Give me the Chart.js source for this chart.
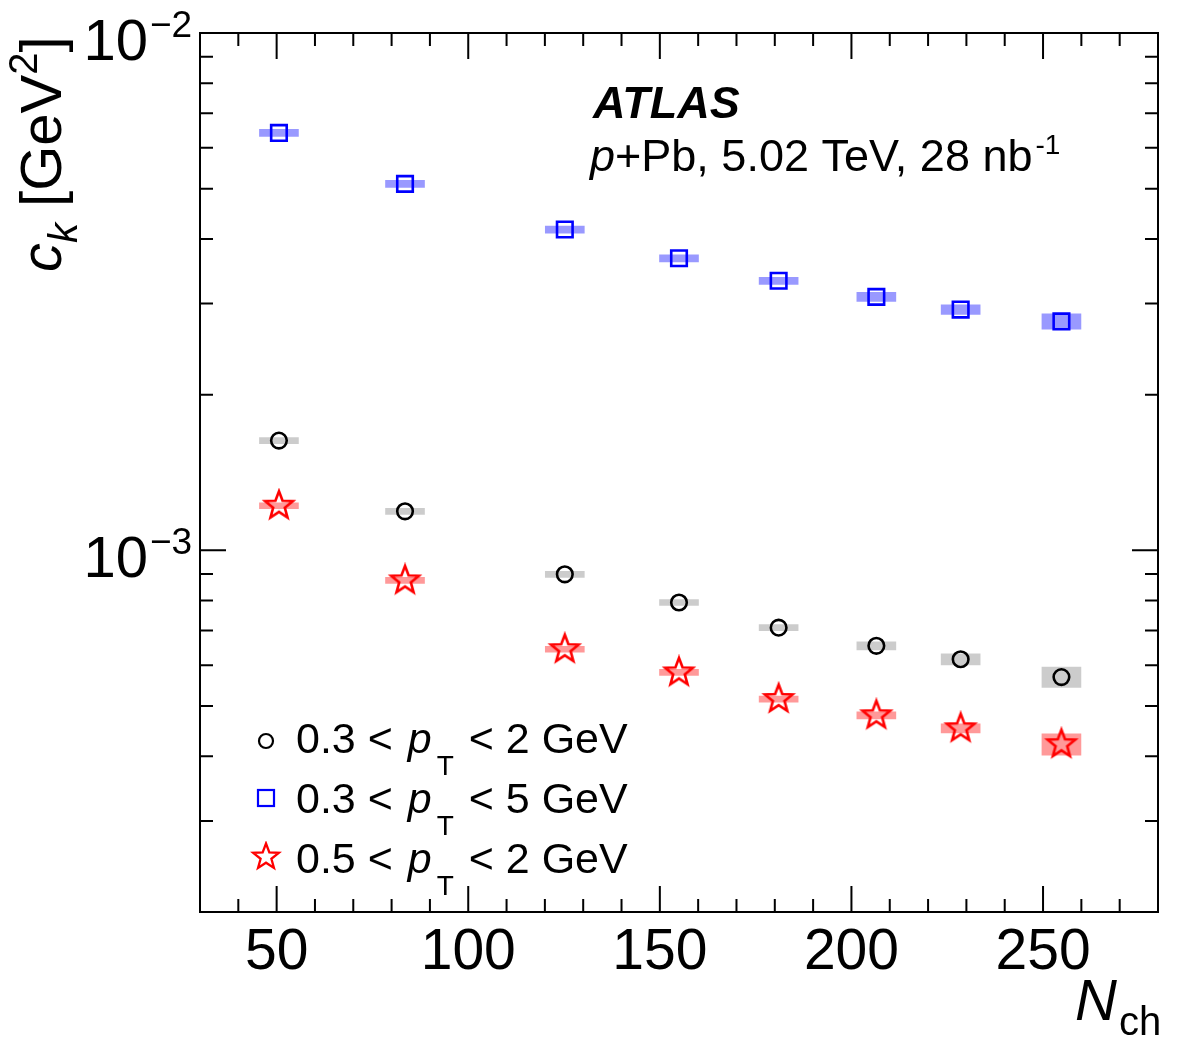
<!DOCTYPE html>
<html>
<head>
<meta charset="utf-8">
<script src="https://cdn.jsdelivr.net/npm/chart.js@4.4.1/dist/chart.umd.min.js"></script>
<style>
    body { margin: 0; background: #fff; }
</style>
</head>
<body>
<canvas id="ckChart" width="1182" height="1059"></canvas>
<script>

    var nch = [50.6, 83.5, 125.2, 155.0, 181.0, 206.5, 228.5, 254.8];

    // 0.3 < pT < 2 GeV (circles)
    var ckLow = [1.63e-3, 1.19e-3, 8.99e-4, 7.93e-4, 7.09e-4, 6.54e-4, 6.16e-4, 5.69e-4];
    var sysLow = [2.2e-5, 1.6e-5, 1.2e-5, 1.06e-5, 0.95e-5, 1.17e-5, 1.53e-5, 2.58e-5];

    // 0.3 < pT < 5 GeV (squares)
    var ckWide = [6.41e-3, 5.11e-3, 4.17e-3, 3.67e-3, 3.32e-3, 3.09e-3, 2.92e-3, 2.77e-3];
    var sysWide = [1.0e-4, 0.8e-4, 0.65e-4, 0.58e-4, 0.52e-4, 0.62e-4, 0.61e-4, 0.94e-4];

    // 0.5 < pT < 2 GeV (stars)
    var ckHigh = [1.22e-3, 8.75e-4, 6.44e-4, 5.81e-4, 5.16e-4, 4.80e-4, 4.53e-4, 4.22e-4];
    var sysHigh = [1.63e-5, 1.17e-5, 0.86e-5, 0.78e-5, 0.69e-5, 0.75e-5, 0.92e-5, 2.02e-5];

    var xTickLabels = [50, 100, 150, 200, 250];
    var yTickLabels = [1e-3, 1e-2];

    var FONT = '"Liberation Sans", Arial, Helvetica, sans-serif';
    Chart.defaults.font.family = FONT;

    function makeStar(R, lw, color) {
        var size = Math.ceil(2 * R + 2 * lw);
        if (size % 2) size++;
        var c = document.createElement('canvas');
        c.width = size;
        c.height = size;
        var g = c.getContext('2d');
        var cx = size / 2, cy = size / 2, r = R * 0.42;
        g.beginPath();
        for (var k = 0; k < 10; k++) {
            var rad = k % 2 === 0 ? R : r;
            var ang = -Math.PI / 2 + k * Math.PI / 5;
            g.lineTo(cx + rad * Math.cos(ang), cy + rad * Math.sin(ang));
        }
        g.closePath();
        g.lineWidth = lw;
        g.strokeStyle = color;
        g.stroke();
        return c;
    }

    var starMarker = makeStar(14.5, 2.6, '#ff0000');
    var starLegend = makeStar(13.5, 2.3, '#ff0000');

    function points(vals) {
        return nch.map(function (x, i) { return {x: x, y: vals[i]}; });
    }

    function boxes(vals, sys) {
        return nch.map(function (x, i) { return {x: x, y: [vals[i] - sys[i], vals[i] + sys[i]]}; });
    }

    function sysBar(vals, sys, color) {
        return {
            type: 'bar',
            data: boxes(vals, sys),
            backgroundColor: color,
            borderWidth: 0,
            barThickness: 39,
            grouped: false,
            order: 2
        };
    }

    // draw text pieces one after the other
    function runs(ctx, x, y, parts) {
        parts.forEach(function (p) {
            ctx.font = p.font;
            ctx.fillText(p.t, x, y + (p.dy || 0));
            x += ctx.measureText(p.t).width + (p.gap || 0);
        });
        return x;
    }

    var decor = {
        id: 'decor',
        afterDraw: function (chart) {
            var ctx = chart.ctx, a = chart.chartArea;
            var xs = chart.scales.x, ys = chart.scales.y;
            ctx.save();
            ctx.strokeStyle = '#000';
            ctx.fillStyle = '#000';
            ctx.lineWidth = 2;

            // inward ticks on x (top and bottom)
            xs.ticks.forEach(function (t) {
                var px = xs.getPixelForValue(t.value);
                var len = t.value % 50 === 0 ? 26 : 13;
                ctx.beginPath();
                ctx.moveTo(px, a.bottom);
                ctx.lineTo(px, a.bottom - len);
                ctx.moveTo(px, a.top);
                ctx.lineTo(px, a.top + len);
                ctx.stroke();
            });

            // inward ticks on y (left and right)
            for (var d = -4; d <= -3; d++) {
                for (var m = 1; m <= 9; m++) {
                    var v = m * Math.pow(10, d);
                    if (v < ys.min || v > ys.max) continue;
                    var py = ys.getPixelForValue(v);
                    var len = m === 1 ? 26 : 13;
                    ctx.beginPath();
                    ctx.moveTo(a.left, py);
                    ctx.lineTo(a.left + len, py);
                    ctx.moveTo(a.right, py);
                    ctx.lineTo(a.right - len, py);
                    ctx.stroke();
                }
            }

            ctx.strokeRect(a.left, a.top, a.right - a.left, a.bottom - a.top);

            // y tick labels 10^n
            yTickLabels.forEach(function (v) {
                var py = ys.getPixelForValue(v);
                var ex = Math.round(Math.log10(v));
                ctx.textAlign = 'right';
                ctx.textBaseline = 'alphabetic';
                ctx.font = '58px ' + FONT;
                ctx.fillText('10', 148, py + 27);
                ctx.textAlign = 'left';
                ctx.font = '37px ' + FONT;
                ctx.fillText('\u2212' + Math.abs(ex), 150, py + 4);
            });

            ctx.textAlign = 'left';
            ctx.textBaseline = 'alphabetic';

            // y title
            ctx.save();
            ctx.translate(61, 153);
            ctx.rotate(-Math.PI / 2);
            runs(ctx, -119, 0, [
                {t: 'c', font: 'italic 58px ' + FONT},
                {t: 'k', font: 'italic 40px ' + FONT, dy: 16},
                {t: ' [GeV', font: '58px ' + FONT},
                {t: '2', font: '40px ' + FONT, dy: -24},
                {t: ']', font: '58px ' + FONT}
            ]);
            ctx.restore();

            // x title
            runs(ctx, 1075, 1020, [
                {t: 'N', font: 'italic 58px ' + FONT, gap: 2},
                {t: 'ch', font: '40px ' + FONT, dy: 15}
            ]);

            // ATLAS label
            ctx.font = 'italic bold 45px ' + FONT;
            ctx.fillText('ATLAS', 593, 118);
            runs(ctx, 590, 171, [
                {t: 'p', font: 'italic 45px ' + FONT},
                {t: '+Pb, 5.02 TeV, 28 nb', font: '45px ' + FONT, gap: 3},
                {t: '-1', font: '28px ' + FONT, dy: -17}
            ]);

            // legend
            var rows = [
                {lo: '0.3', hi: '2', y: 753},
                {lo: '0.3', hi: '5', y: 813},
                {lo: '0.5', hi: '2', y: 873}
            ];
            rows.forEach(function (r) {
                runs(ctx, 296, r.y, [
                    {t: r.lo + ' < ', font: '43px ' + FONT, gap: 3},
                    {t: 'p', font: 'italic 43px ' + FONT, gap: 5},
                    {t: 'T', font: '28px ' + FONT, dy: 22, gap: 3},
                    {t: ' < ' + r.hi + ' GeV', font: '43px ' + FONT}
                ]);
            });
            ctx.lineWidth = 2.2;
            ctx.strokeStyle = '#000';
            ctx.beginPath();
            ctx.arc(266, 741, 7, 0, Math.PI * 2);
            ctx.stroke();
            ctx.strokeStyle = '#0000ff';
            ctx.strokeRect(258, 790, 16, 16);
            ctx.drawImage(starLegend, 266 - starLegend.width / 2, 857 - starLegend.height / 2);

            ctx.restore();
        }
    };

    var ctx = document.getElementById('ckChart').getContext('2d');
    new Chart(ctx, {
        type: 'scatter',
        data: {
            datasets: [
                sysBar(ckLow, sysLow, 'rgba(0,0,0,0.2)'),
                sysBar(ckWide, sysWide, 'rgba(0,0,255,0.4)'),
                sysBar(ckHigh, sysHigh, 'rgba(255,0,0,0.4)'),
                {
                    label: '0.3 < pT < 2 GeV',
                    data: points(ckLow),
                    pointStyle: 'circle',
                    pointRadius: 7.8,
                    borderColor: '#000',
                    backgroundColor: 'rgba(0,0,0,0)',
                    borderWidth: 2.6,
                    order: 1
                },
                {
                    label: '0.3 < pT < 5 GeV',
                    data: points(ckWide),
                    pointStyle: 'rect',
                    pointRadius: 11,
                    borderColor: '#0000ff',
                    backgroundColor: 'rgba(0,0,0,0)',
                    borderWidth: 2.6,
                    order: 1
                },
                {
                    label: '0.5 < pT < 2 GeV',
                    data: points(ckHigh),
                    pointStyle: starMarker,
                    pointRadius: 14,
                    order: 1
                }
            ]
        },
        options: {
            responsive: false,
            animation: false,
            devicePixelRatio: 1,
            layout: {padding: {top: 33, right: 24, left: 0, bottom: 0}},
            plugins: {legend: {display: false}, tooltip: {enabled: false}},
            scales: {
                x: {
                    type: 'linear',
                    min: 30,
                    max: 280,
                    offset: false,
                    grid: {display: false, drawTicks: false},
                    border: {display: false},
                    ticks: {
                        stepSize: 10,
                        autoSkip: false,
                        maxRotation: 0,
                        padding: 7,
                        color: '#000',
                        font: {size: 57},
                        callback: function (v) {
                            return xTickLabels.indexOf(v) >= 0 ? String(v) : '';
                        }
                    },
                    afterFit: function (s) { s.height = 147; }
                },
                y: {
                    type: 'logarithmic',
                    min: 2e-4,
                    max: 1e-2,
                    grid: {display: false, drawTicks: false},
                    border: {display: false},
                    ticks: {display: false},
                    afterFit: function (s) { s.width = 200; }
                }
            }
        },
        plugins: [decor]
    });

</script>
</body>
</html>
